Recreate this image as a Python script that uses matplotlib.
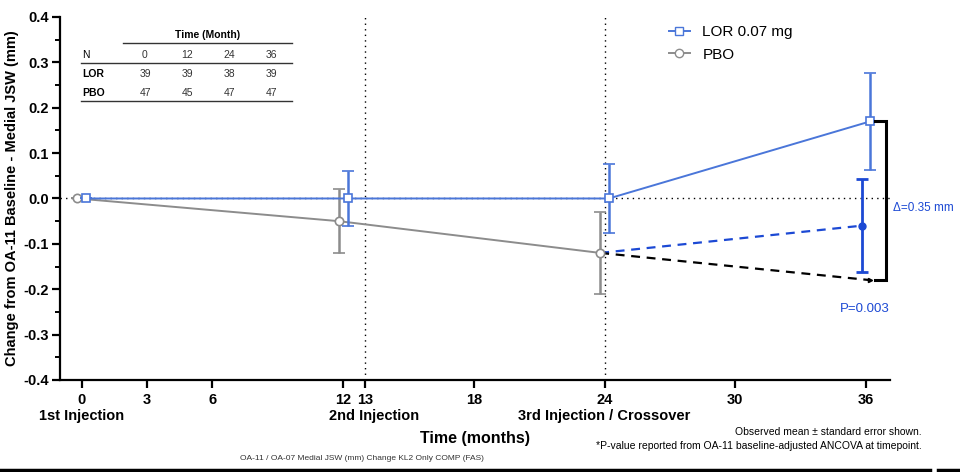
import numpy as np
import matplotlib.pyplot as plt
from matplotlib.lines import Line2D

plt.rcParams['font.family'] = ['Liberation Sans', 'DejaVu Sans']

# data
lor_x = [0.2, 12.2, 24.2, 36.2]
lor_y = [0.0, 0.0, 0.0, 0.17]
lor_err = [0.0, 0.06, 0.077, 0.107]

pbo_x = [-0.2, 11.8, 23.8]
pbo_y = [0.0, -0.05, -0.12]
pbo_err = [0.0, 0.07, 0.09]

cross_x = [23.8, 35.8]          # PBO -> LOR crossover arm
cross_y = [-0.12, -0.06]
cross_err = 0.102
proj_x = [23.8, 36.2]           # PBO projected
proj_y = [-0.12, -0.18]

xticks = [0, 3, 6, 12, 13, 18, 24, 30, 36]
inj_x = [0, 13.4, 24]
inj_labels = ['1st Injection', '2nd Injection', '3rd Injection / Crossover']
yticks = [-0.4, -0.3, -0.2, -0.1, 0.0, 0.1, 0.2, 0.3, 0.4]

tab_months = ['0', '12', '24', '36']
tab_lor = ['39', '39', '38', '39']
tab_pbo = ['47', '45', '47', '47']

c_lor = '#4a76d9'
c_lor2 = '#1c49d4'
c_pbo = '#8c8c8c'

fig = plt.figure(figsize=(9.6, 4.72), dpi=100)
ax = fig.add_axes([0.0625, 0.195, 0.8645, 0.769])

# reference lines
ax.axhline(0, color='black', linestyle=(0, (1, 3)), lw=1.0, zorder=1)
for xv in [13, 24]:
    ax.axvline(xv, color='black', linestyle=(0, (1, 3)), lw=1.0, zorder=1)

# PBO
ax.errorbar(pbo_x, pbo_y, yerr=pbo_err, color=c_pbo, lw=1.4, marker='o', ms=6,
            mfc='white', mec=c_pbo, mew=1.2, capsize=4, elinewidth=1.8, capthick=1.8, zorder=3)
# LOR
ax.errorbar(lor_x, lor_y, yerr=lor_err, color=c_lor, lw=1.4, marker='s', ms=6,
            mfc='white', mec=c_lor, mew=1.2, capsize=4, elinewidth=1.8, capthick=1.8, zorder=4)

# crossover arms
ax.plot(cross_x, cross_y, color=c_lor2, lw=1.6, linestyle=(0, (4, 3)), zorder=3)
ax.errorbar([cross_x[1]], [cross_y[1]], yerr=cross_err, color=c_lor2, marker='o', ms=5,
            capsize=4, elinewidth=2.0, capthick=2.0, zorder=4)
ax.plot(proj_x, proj_y, color='black', lw=1.6, linestyle=(0, (4, 3)), zorder=3)
ax.plot([proj_x[1]], [proj_y[1]], marker='>', color='black', ms=3, zorder=3)

# delta bracket
bx = 36.9
ax.plot([36.4, bx, bx, 36.4], [lor_y[3], lor_y[3], proj_y[1], proj_y[1]],
        color='black', lw=2.2, solid_joinstyle='miter', clip_on=False, zorder=5)
ax.text(37.25, -0.022, '\u0394=0.35 mm', color=c_lor2, fontsize=8.5, ha='left', va='center')
ax.text(34.8, -0.243, 'P=0.003', color=c_lor2, fontsize=9.5, ha='left', va='center')

ax.set_xlim(-1.0, 37.1)
ax.set_ylim(-0.4, 0.4)
ax.set_xticks(xticks)
ax.set_xticklabels([str(v) for v in xticks], fontweight='bold', fontsize=10.5)
for xv, lab in zip(inj_x, inj_labels):
    ax.text(xv, -0.098, lab, transform=ax.get_xaxis_transform(), ha='center', va='center',
            fontweight='bold', fontsize=10.5)
ax.set_yticks(yticks)
ax.set_yticklabels(['%.1f' % v for v in yticks], fontweight='bold', fontsize=10.5)
ax.set_yticks(np.arange(-0.35, 0.4, 0.1), minor=True)
ax.tick_params(axis='both', which='major', direction='out', length=6, width=1.6)
ax.tick_params(axis='y', which='major', pad=2)
ax.tick_params(axis='y', which='minor', direction='out', length=3.5, width=1.4)
for s in ['top', 'right']:
    ax.spines[s].set_visible(False)
for s in ['left', 'bottom']:
    ax.spines[s].set_linewidth(1.6)
ax.set_xlabel('Time (months)', fontweight='bold', fontsize=11.5, labelpad=17)
ax.set_ylabel('Change from OA-11 Baseline - Medial JSW (mm)', fontweight='bold', fontsize=10.5,
              labelpad=3)

# legend
handles = [Line2D([], [], color=c_lor, marker='s', ms=6, mfc='white', mec=c_lor, lw=1.4),
           Line2D([], [], color=c_pbo, marker='o', ms=6, mfc='white', mec=c_pbo, lw=1.4)]
ax.legend(handles, ['LOR 0.07 mg', 'PBO'], loc='upper left', bbox_to_anchor=(0.717, 1.015),
          frameon=False, fontsize=11, handlelength=1.4, labelspacing=0.55)

# N table
tab_cols = [145, 187, 229, 271]
def fx(px):
    return px / 960
def fy(py):
    return 1 - py / 472
fig.text(fx(208), fy(35), 'Time (Month)', fontsize=7.5, fontweight='bold', ha='center', va='center')
fig.add_artist(Line2D([fx(123), fx(292)], [fy(43), fy(43)], color='#333333', lw=1.0))
fig.text(fx(82), fy(55), 'N', fontsize=7.5, ha='left', va='center')
for cx, m in zip(tab_cols, tab_months):
    fig.text(fx(cx), fy(55), m, fontsize=7.5, ha='center', va='center', color='#333333')
fig.add_artist(Line2D([fx(81), fx(292)], [fy(63), fy(63)], color='#333333', lw=1.0))
fig.text(fx(82), fy(74), 'LOR', fontsize=7.5, fontweight='bold', ha='left', va='center')
fig.text(fx(82), fy(93), 'PBO', fontsize=7.5, fontweight='bold', ha='left', va='center')
for cx, a, b in zip(tab_cols, tab_lor, tab_pbo):
    fig.text(fx(cx), fy(74), a, fontsize=7.5, ha='center', va='center', color='#333333')
    fig.text(fx(cx), fy(93), b, fontsize=7.5, ha='center', va='center', color='#333333')
fig.add_artist(Line2D([fx(81), fx(292)], [fy(101), fy(101)], color='#333333', lw=1.0))

# footnotes
fig.text(fx(922), fy(432), 'Observed mean \u00b1 standard error shown.', fontsize=7.5, ha='right', va='center')
fig.text(fx(922), fy(446), '*P-value reported from OA-11 baseline-adjusted ANCOVA at timepoint.',
         fontsize=7.5, ha='right', va='center')
fig.text(fx(362), fy(459), 'OA-11 / OA-07 Medial JSW (mm) Change KL2 Only COMP (FAS)',
         fontsize=6, ha='center', va='center', color='#333333')
fig.add_artist(Line2D([0, fx(930)], [fy(470), fy(470)], color='black', lw=2.5))
fig.add_artist(Line2D([fx(938), 1], [fy(470), fy(470)], color='black', lw=2.5))

fig.savefig('out.png', dpi=100)
